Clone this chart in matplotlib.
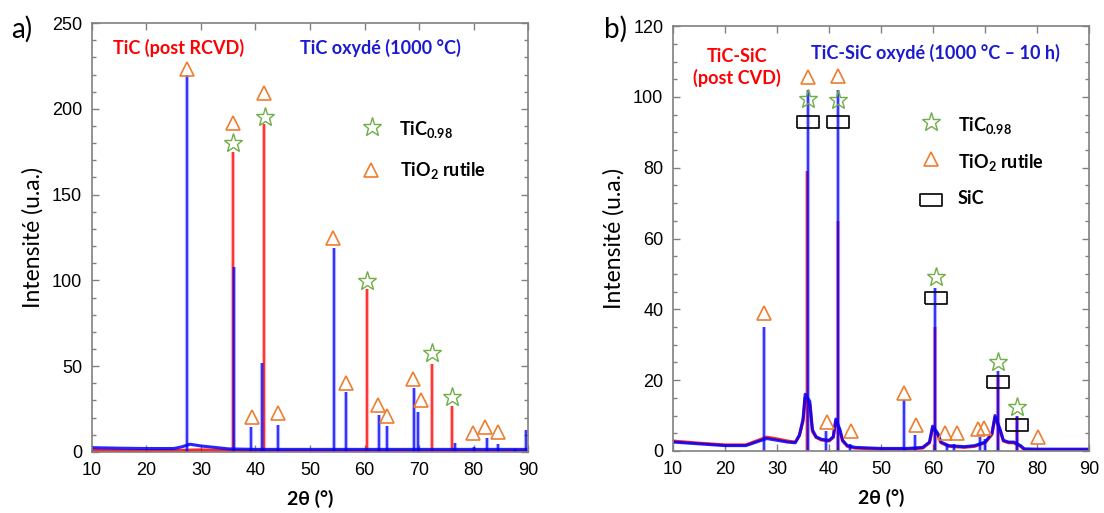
import numpy as np
import matplotlib
matplotlib.use("Agg")
import matplotlib.pyplot as plt
from matplotlib.ticker import MultipleLocator

plt.rcParams['font.family'] = ['Liberation Sans', 'DejaVu Sans']
plt.rcParams['mathtext.fontset'] = 'custom'
plt.rcParams['mathtext.rm'] = 'Lato:bold'
plt.rcParams['mathtext.default'] = 'rm'

# ---- panel a : TiC ----
a_red_base_x = [10, 20, 27, 30, 40, 60, 90]
a_red_base_y = [1.0, 0.8, 1.0, 1.2, 0.6, 0.5, 0.5]
a_red_pk_x = [35.9, 41.6, 60.4, 72.3, 76.1]
a_red_pk_y = [175, 191, 95, 51, 27]

a_blue_base_x = [10, 15, 20, 25, 26.5, 28, 30, 33, 35, 40, 50, 60, 70, 80, 90]
a_blue_base_y = [2.5, 2.2, 2.0, 2.0, 3.0, 4.5, 3.5, 2.5, 1.8, 1.5, 1.5, 1.5, 1.5, 1.5, 1.5]
a_blue_pk_x = [27.4, 36.1, 39.2, 41.25, 44.1, 54.4, 56.6, 62.7, 64.1, 69.1, 69.8,
               76.6, 80.0, 82.4, 84.4, 87.6, 89.6]
a_blue_pk_y = [220, 108, 14.5, 52, 16, 119, 35, 21.5, 15.3, 37, 23,
               5, 3, 8, 4.5, 2, 12.8]

a_tri_x = [27.4, 35.9, 41.6, 39.3, 44.2, 54.3, 56.6, 62.4, 64.1, 68.9, 70.3, 79.9, 82.1, 84.4]
a_tri_y = [223, 192, 209, 20.5, 22.6, 125, 40.3, 27.3, 21, 42.8, 30.2, 10.8, 14.3, 11.8]
a_star_x = [35.9, 41.8, 60.4, 72.3, 76.1]
a_star_y = [180, 195, 99.6, 57.4, 32.2]

# ---- panel b : TiC-SiC ----
b_blue_base_x = [10, 15, 20, 24, 26, 28, 30, 32, 33.5, 34.3, 35.0, 35.4, 36.3, 36.8,
                 37.5, 38.5, 40, 40.8, 41.3, 42.1, 42.6, 43.5, 45, 50, 55, 58, 59.3,
                 59.9, 60.9, 61.5, 63, 66, 68, 70, 71.3, 71.9, 72.9, 73.5, 74.5, 75.5,
                 76.8, 77.5, 80, 90]
b_blue_base_y = [2.5, 2.0, 1.5, 1.5, 2.5, 3.5, 3.0, 2.5, 2.3, 4.5, 9, 16, 14, 6,
                 4.0, 3.3, 3.0, 4.0, 9, 6, 3.0, 1.5, 1.0, 0.7, 0.7, 1.0, 2.5,
                 7, 5, 2.5, 1.5, 1.2, 1.5, 2.5, 5, 10, 6, 3.0, 2.5, 2.5,
                 1.5, 0.6, 0.5, 0.5]
b_blue_pk_x = [27.4, 35.9, 39.5, 41.7, 44.0, 54.4, 56.6, 60.4, 62.6, 64.0, 69.0, 69.9, 72.4, 76.2]
b_blue_pk_y = [35, 102, 5.5, 102, 2, 14.5, 4.5, 46, 2, 2, 4, 3.5, 22.5, 10]

b_red_base_x = [10, 15, 20, 24, 26, 28, 30, 32, 33.5, 34.3, 35.0, 35.4, 36.3, 36.8,
                37.5, 38.5, 40, 40.8, 41.3, 42.1, 42.6, 43.5, 45, 50, 55, 58, 59.3,
                59.9, 60.9, 61.5, 63, 66, 68, 70, 71.3, 71.9, 72.9, 73.5, 74.5, 75.5,
                76.8, 77.5, 80, 90]
b_red_base_y = [2.8, 2.2, 1.7, 1.7, 2.8, 3.9, 3.4, 2.8, 2.5, 4.3, 8.5, 15, 13, 5.5,
                3.8, 3.1, 2.8, 3.8, 8.5, 5.5, 2.8, 1.3, 0.8, 0.5, 0.5, 0.8, 2.3,
                6.5, 4.5, 2.3, 1.3, 1.0, 1.3, 2.3, 4.6, 9.5, 5.5, 2.8, 2.3, 2.3,
                1.3, 0.4, 0.3, 0.3]
b_red_pk_x = [35.8, 41.7, 60.4, 72.4, 76.2]
b_red_pk_y = [79, 65, 35, 21, 9.5]

b_tri_x = [27.4, 35.9, 41.7, 39.6, 44.2, 54.4, 56.7, 62.2, 64.6, 68.6, 69.7, 80.1]
b_tri_y = [38.9, 105.7, 105.9, 8.3, 5.5, 16.5, 7.3, 5.0, 5.0, 6.1, 6.4, 4.0]
b_star_x = [35.9, 41.7, 60.5, 72.4, 76.2]
b_star_y = [99.3, 99.1, 49.0, 25.2, 12.3]
b_rect_x = [35.9, 41.7, 60.5, 72.5, 76.2]
b_rect_y = [92.9, 92.8, 43.3, 19.6, 7.3]

RED = '#ff0000'
BLUE = '#0000ff'
ORANGE = '#ed7d31'
GREEN = '#70ad47'
TXT_BLUE = '#1a1ad0'
LABEL_FONT = ['Lato', 'DejaVu Sans']

rect_marker = [(-1, -0.55), (1, -0.55), (1, 0.55), (-1, 0.55), (-1, -0.55)]


def draw_pattern(ax, bx, by, px, py, color):
    ax.plot(bx, by, color=color, lw=2.2, alpha=0.85, solid_joinstyle='round', zorder=2)
    ax.vlines(px, 0, py, color=color, lw=3, alpha=0.3, zorder=2)
    ax.vlines(px, 0, py, color=color, lw=1.1, alpha=0.9, zorder=2)


def style_axes(ax, ymax, ymajor, yminor):
    ax.set_xlim(10, 90)
    ax.set_ylim(0, ymax)
    ax.xaxis.set_major_locator(MultipleLocator(10))
    ax.yaxis.set_major_locator(MultipleLocator(ymajor))
    ax.yaxis.set_minor_locator(MultipleLocator(yminor))
    ax.tick_params(which='both', direction='in', top=True, right=True, color='#808080')
    ax.tick_params(which='major', length=5, labelsize=13, width=1)
    ax.tick_params(which='minor', length=3, width=1)
    ax.tick_params(axis='x', pad=7)
    ax.tick_params(axis='y', pad=7)
    for s in ax.spines.values():
        s.set_color('#808080')
        s.set_linewidth(1.2)
    ax.set_ylabel('Intensité (u.a.)', fontsize=16.5, family=LABEL_FONT, labelpad=6)
    ax.set_xlabel('2θ (°)', fontsize=14, family=LABEL_FONT, fontweight='bold', labelpad=8)


def markers(ax, x, y, kind):
    if kind == 'tri':
        ax.plot(x, y, ls='none', marker='^', ms=9.5, mfc='none', mec=ORANGE, mew=1.2, zorder=4)
    elif kind == 'star':
        ax.plot(x, y, ls='none', marker='*', ms=14, mfc='none', mec=GREEN, mew=1.0, zorder=4)
    else:
        ax.plot(x, y, ls='none', marker=rect_marker, ms=16, mfc='none', mec='black', mew=1.2, zorder=4)


fig = plt.figure(figsize=(11.04, 5.13), dpi=100)
ax1 = fig.add_axes([0.0833, 0.119, 0.395, 0.836])
ax2 = fig.add_axes([0.6096, 0.121, 0.377, 0.828])

# panel a
draw_pattern(ax1, a_red_base_x, a_red_base_y, a_red_pk_x, a_red_pk_y, RED)
draw_pattern(ax1, a_blue_base_x, a_blue_base_y, a_blue_pk_x, a_blue_pk_y, BLUE)
markers(ax1, a_tri_x, a_tri_y, 'tri')
markers(ax1, a_star_x, a_star_y, 'star')
style_axes(ax1, 250, 50, 10)
ax1.text(25.8, 235.3, 'TiC (post RCVD)', color=RED, fontsize=13, fontweight='bold',
         family=LABEL_FONT, ha='center', va='center')
ax1.text(63.0, 235.3, 'TiC oxydé (1000 °C)', color=TXT_BLUE, fontsize=13, fontweight='bold',
         family=LABEL_FONT, ha='center', va='center')
markers(ax1, [61.3], [189.5], 'star')
markers(ax1, [61.1], [164.4], 'tri')
ax1.text(66.3, 188, 'TiC$_{0.98}$', fontsize=13, fontweight='bold', family=LABEL_FONT, va='center')
ax1.text(66.6, 164, 'TiO$_{2}$ rutile', fontsize=13, fontweight='bold', family=LABEL_FONT, va='center')

# panel b
draw_pattern(ax2, b_red_base_x, b_red_base_y, b_red_pk_x, b_red_pk_y, RED)
draw_pattern(ax2, b_blue_base_x, b_blue_base_y, b_blue_pk_x, b_blue_pk_y, BLUE)
markers(ax2, b_tri_x, b_tri_y, 'tri')
markers(ax2, b_star_x, b_star_y, 'star')
markers(ax2, b_rect_x, b_rect_y, 'rect')
style_axes(ax2, 120, 20, 5)
ax2.text(22.3, 108.3, 'TiC-SiC\n(post CVD)', color=RED, fontsize=13, fontweight='bold',
         family=LABEL_FONT, ha='center', va='center', linespacing=1.3)
ax2.text(60.4, 112.4, 'TiC-SiC oxydé (1000 °C – 10 h)', color=TXT_BLUE, fontsize=13,
         fontweight='bold', family=LABEL_FONT, ha='center', va='center')
markers(ax2, [59.5], [93], 'star')
markers(ax2, [59.5], [82.4], 'tri')
markers(ax2, [59.6], [70.9], 'rect')
ax2.text(64.7, 91.8, 'TiC$_{0.98}$', fontsize=13, fontweight='bold', family=LABEL_FONT, va='center')
ax2.text(64.7, 81.4, 'TiO$_{2}$ rutile', fontsize=13, fontweight='bold', family=LABEL_FONT, va='center')
ax2.text(64.7, 71.4, 'SiC', fontsize=13, fontweight='bold', family=LABEL_FONT, va='center')

fig.text(0.010, 0.942, 'a)', fontsize=20, family=LABEL_FONT, va='center')
fig.text(0.547, 0.942, 'b)', fontsize=20, family=LABEL_FONT, va='center')

fig.savefig('out.png', dpi=100)
